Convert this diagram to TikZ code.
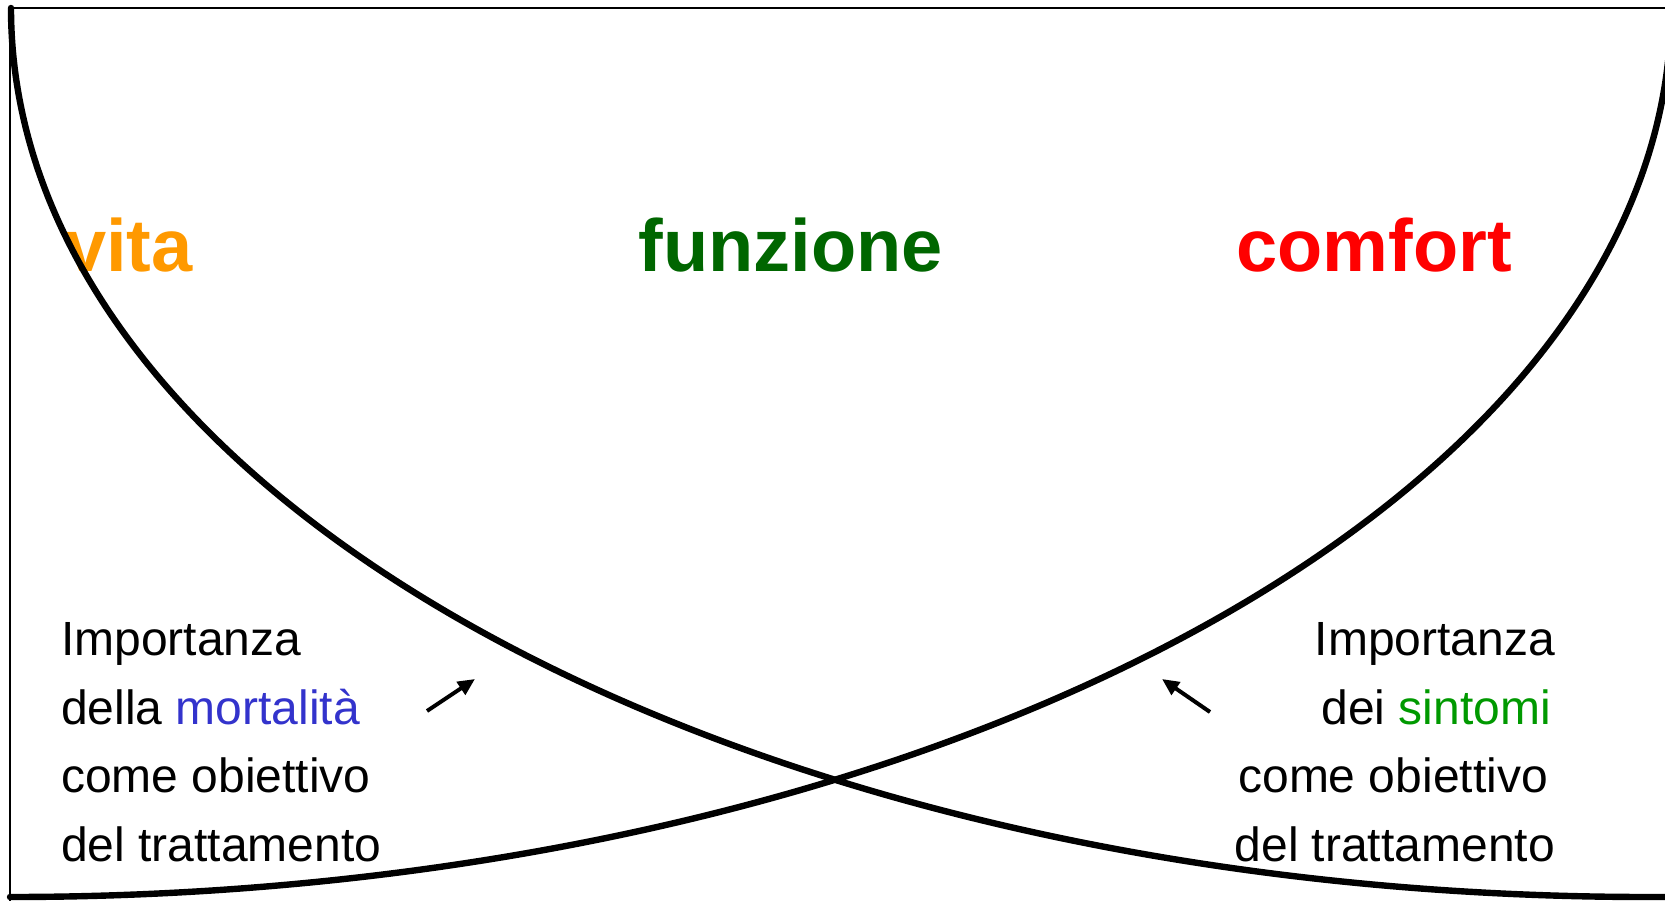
\documentclass[tikz,border=0pt]{standalone}
\usepackage{fontspec}
\setmainfont{Liberation Sans}
\usetikzlibrary{arrows.meta}

\definecolor{vitaorange}{HTML}{FF9900}
\definecolor{funzgreen}{HTML}{006600}
\definecolor{comfred}{HTML}{FF0000}
\definecolor{mortblue}{HTML}{3333CC}
\definecolor{sintgreen}{HTML}{009900}

\begin{document}
\begin{tikzpicture}[x=1pt, y=-1pt, line cap=round, line join=round,
    titolo/.style={anchor=base, inner sep=0pt, font=\fontsize{74}{88}\selectfont\bfseries},
    riga/.style={inner sep=0pt, font=\fontsize{48}{57}\selectfont},
    freccia/.style={line width=4pt, line cap=butt, -{Triangle[length=17pt,width=15pt]}}]

  %% ════ cornice ════
  \draw[line width=2.0pt] (10.0,8.0) -- (1665.0,8.0);
  \draw[line width=1.6pt] (10.0,8.0) -- (10.0,901.0);

  %% ════ titoli ════
  \node[titolo, anchor=base west, text=vitaorange] (vita) at (65.0,272.0) {vita};
  \node[titolo, text=funzgreen] (funzione) at (791.0,272.0) {funzione};
  \node[titolo, anchor=base east, text=comfred] (comfort) at (1512.0,272.0) {comfort};

  %% ════ testo a sinistra ════
  \node[riga, anchor=base west] (sx1) at (61.0,655.0) {Importanza};
  \node[riga, anchor=base west] (sx2) at (61.0,724.0) {della \textcolor{mortblue}{mortalità}};
  \node[riga, anchor=base west] (sx3) at (61.0,792.0) {come obiettivo};
  \node[riga, anchor=base west] (sx4) at (61.0,861.0) {del trattamento};

  %% ════ testo a destra ════
  \node[riga, anchor=base east] (dx1) at (1555.0,655.0) {Importanza};
  \node[riga, anchor=base east] (dx2) at (1551.0,724.0) {dei \textcolor{sintgreen}{sintomi}};
  \node[riga, anchor=base east] (dx3) at (1548.0,792.0) {come obiettivo};
  \node[riga, anchor=base east] (dx4) at (1555.0,861.0) {del trattamento};

  %% ════ curve (sopra il testo) ════
  \draw[line width=6.4pt] (11.0,8.0) .. controls (11.0,499.0) and (744.0,897.0) .. (1648.0,897.0) -- (1680.0,897.0);
  \draw[line width=6.4pt] (1671.0,8.0) .. controls (1671.0,499.0) and (927.0,897.0) .. (10.0,897.0);

  %% ════ frecce ════
  \coordinate (fsA) at (427.0,711.0);
  \coordinate (fsB) at (475.0,679.0);
  \coordinate (fdA) at (1210.0,712.0);
  \coordinate (fdB) at (1162.0,679.0);
  \draw[freccia] (fsA) -- (fsB);
  \draw[freccia] (fdA) -- (fdB);

  % bounding box fisso
  \pgfresetboundingbox
  \path[use as bounding box] (0,0) rectangle (1665,901);
\end{tikzpicture}
\end{document}
